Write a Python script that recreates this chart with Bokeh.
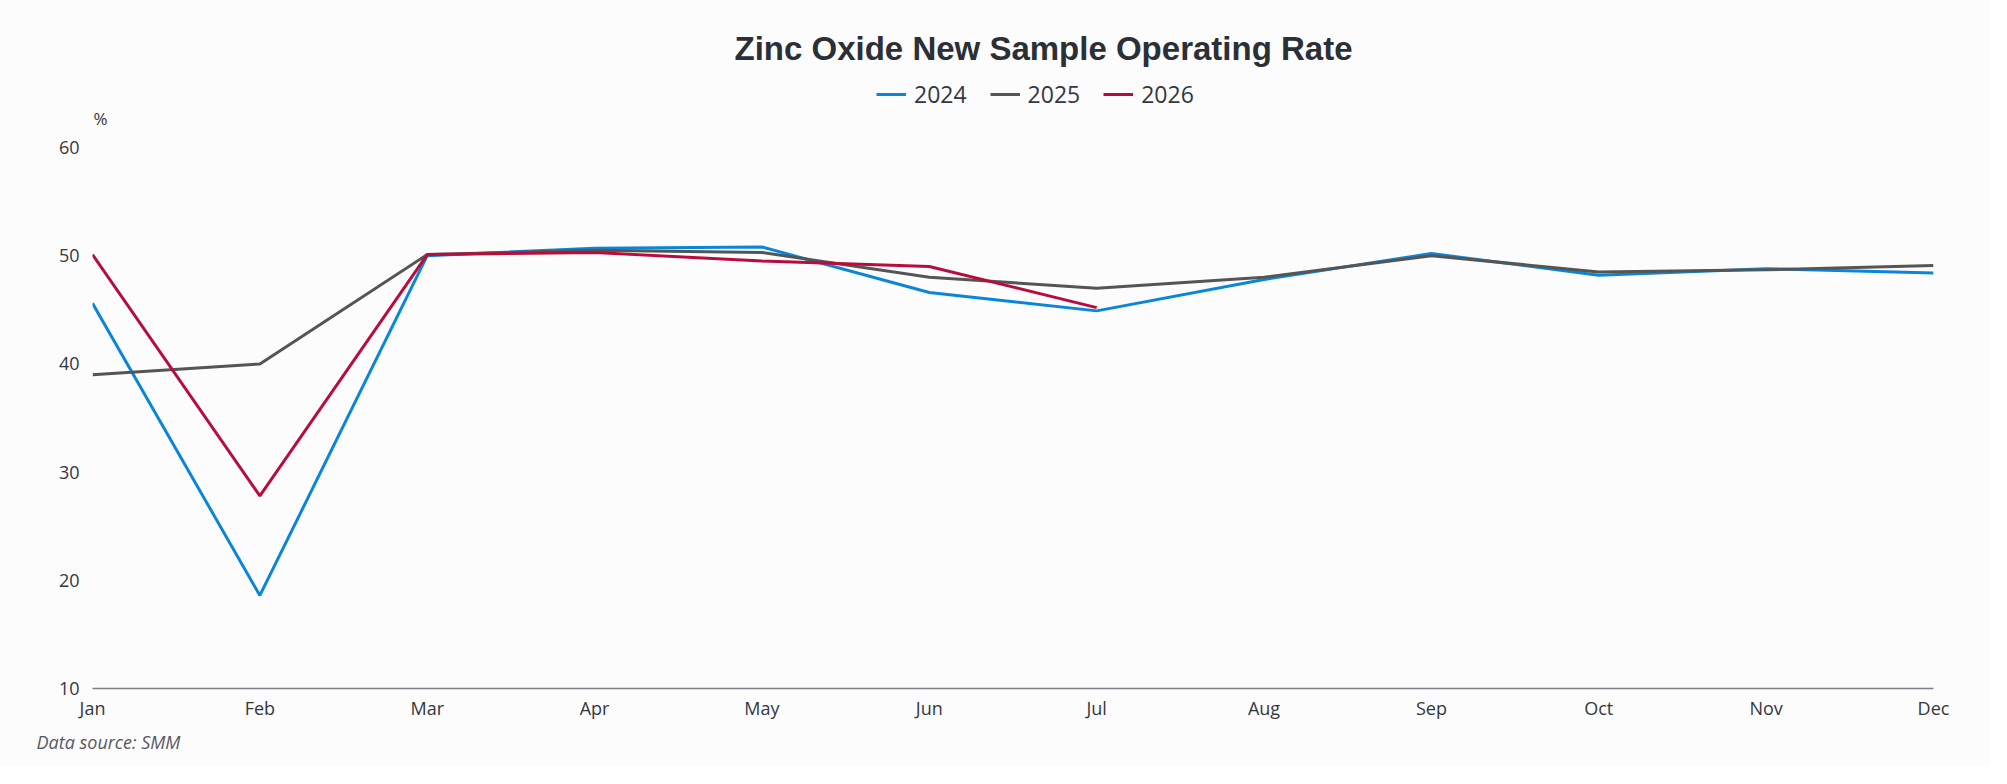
from bokeh.plotting import figure
from bokeh.models import Range1d, FixedTicker, Legend, LegendItem, Title, Label
from bokeh.embed import file_html
from bokeh.resources import INLINE

# data
months = ["Jan", "Feb", "Mar", "Apr", "May", "Jun", "Jul", "Aug", "Sep", "Oct", "Nov", "Dec"]
rate_2024 = [45.6, 18.6, 50.0, 50.7, 50.8, 46.6, 44.9, 47.8, 50.2, 48.2, 48.8, 48.4]
rate_2025 = [39.0, 40.0, 50.1, 50.5, 50.3, 48.0, 47.0, 48.0, 50.0, 48.5, 48.7, 49.1]
rate_2026 = [50.1, 27.8, 50.1, 50.3, 49.5, 49.0, 45.2]
series_names = ["2024", "2025", "2026"]
colors = ["#0a86d8", "#555555", "#b80d3c"]

W, H = 1990, 766
LEFT, RIGHT, BOTTOM = 92, 57, 78
TOP_PAD = 147                      # pixels between canvas top and the 60 tick
frame_w = W - LEFT - RIGHT
frame_h = H - BOTTOM
px_y = 50 / (frame_h - TOP_PAD)    # data units per pixel
px_x = (len(months) - 1) / frame_w

bg = "#fcfcfc"
txt = "#333840"

# the frame reaches the canvas top so that title, legend and unit can sit inside it
p = figure(width=W, height=H, output_backend="svg", toolbar_location=None,
           x_range=Range1d(0, len(months) - 1), y_range=Range1d(10, 60 + TOP_PAD * px_y),
           min_border_left=LEFT, min_border_right=RIGHT,
           min_border_top=0, min_border_bottom=BOTTOM)
p.title.visible = False
p.background_fill_color = bg
p.border_fill_color = bg
p.outline_line_color = None
p.grid.visible = False

xs = list(range(len(months)))
renderers = []
for name, vals, c in zip(series_names, [rate_2024, rate_2025, rate_2026], colors):
    r = p.line(xs[:len(vals)], vals, line_color=c, line_width=3)
    renderers.append(r)

# x axis
p.xaxis.ticker = FixedTicker(ticks=xs)
p.xaxis.major_label_overrides = {i: m for i, m in enumerate(months)}
p.xaxis.axis_line_color = "#7d8088"
p.xaxis.axis_line_width = 1.5
p.xaxis.major_tick_line_color = None
p.xaxis.minor_tick_line_color = None
p.xaxis.major_label_standoff = 1
p.xaxis.major_label_text_font = "Open Sans"
p.xaxis.major_label_text_font_size = "18px"
p.xaxis.major_label_text_color = txt

# y axis
p.yaxis.ticker = FixedTicker(ticks=[10, 20, 30, 40, 50, 60])
p.yaxis.axis_line_color = None
p.yaxis.major_tick_line_color = None
p.yaxis.minor_tick_line_color = None
p.yaxis.major_label_standoff = 7
p.yaxis.major_label_text_font = "Open Sans"
p.yaxis.major_label_text_font_size = "18px"
p.yaxis.major_label_text_color = txt

legend = Legend(items=[LegendItem(label=n, renderers=[r]) for n, r in zip(series_names, renderers)],
                orientation="horizontal", location=(784, frame_h - 95 - 15),
                glyph_width=30, glyph_height=20, label_standoff=8, spacing=23,
                padding=0, margin=0, border_line_color=None, background_fill_alpha=0,
                label_text_font="Open Sans", label_text_font_size="23px",
                label_text_color=txt)
p.add_layout(legend, "center")

p.add_layout(Label(x=(1043 - LEFT) * px_x, y=60 + (TOP_PAD - 48) * px_y,
                   text="Zinc Oxide New Sample Operating Rate",
                   text_align="center", text_baseline="middle", text_font="Liberation Sans",
                   text_font_style="bold", text_font_size="33px", text_color="#2b2f36"))
p.add_layout(Label(x=8 * px_x, y=60 + (TOP_PAD - 118) * px_y, text="%",
                   text_align="center", text_baseline="middle",
                   text_font="Open Sans", text_font_size="17px", text_color=txt))

p.add_layout(Title(text="Data source:  SMM", align="left", offset=-56, standoff=10,
                   text_font="Open Sans", text_font_style="italic", text_font_size="18px",
                   text_color="#555a63"), "below")

open("out.html", "w").write(file_html(p, INLINE))
